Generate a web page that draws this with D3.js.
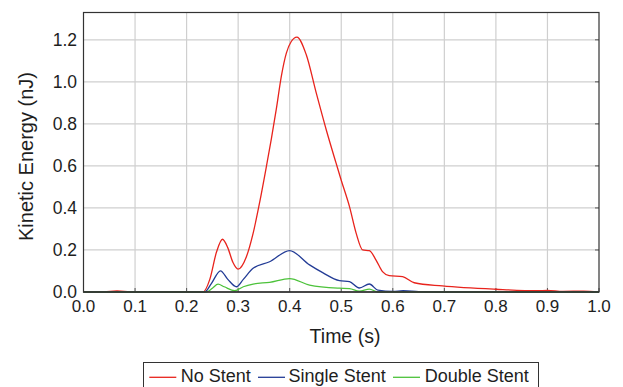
<!DOCTYPE html>
<html>
<head>
<meta charset="utf-8">
<script src="https://cdn.jsdelivr.net/npm/d3@7"></script>
<style>
  body { margin: 0; background: #fff; }
  text { font-family: "Liberation Sans", Arial, sans-serif; fill: #1e1e1e; }
</style>
</head>
<body>
<svg id="chart" width="623" height="387"></svg>
<script>
// values
const noStent = [
  [0.0, 0], [0.04, 0.001], [0.065, 0.005], [0.09, 0.001], [0.12, 0], [0.2, 0.002], [0.232, 0],
  [0.245, 0.06], [0.258, 0.19], [0.2696, 0.251], [0.28, 0.21], [0.29, 0.14], [0.2998, 0.109],
  [0.316, 0.168], [0.329, 0.279], [0.342, 0.43], [0.355, 0.6], [0.3645, 0.73],
  [0.374, 0.87], [0.384, 1.03], [0.3935, 1.137], [0.403, 1.192], [0.414, 1.213],
  [0.432, 1.13], [0.4516, 0.946], [0.471, 0.771], [0.49, 0.613], [0.4998, 0.533],
  [0.516, 0.406], [0.529, 0.279], [0.5416, 0.2], [0.5545, 0.197], [0.5675, 0.152],
  [0.58, 0.097], [0.593, 0.078], [0.619, 0.073], [0.6416, 0.044], [0.696, 0.029], [0.80, 0.013],
  [0.88, 0.006], [0.9, 0.008], [0.93, 0.003], [0.97, 0.004], [1.0, 0]
];
const singleStent = [
  [0.0, 0], [0.235, 0], [0.248, 0.04], [0.2657, 0.101], [0.28, 0.06], [0.2967, 0.025],
  [0.31, 0.06], [0.329, 0.113], [0.361, 0.144], [0.3998, 0.197], [0.4385, 0.129],
  [0.464, 0.092], [0.4965, 0.054], [0.516, 0.049], [0.535, 0.019], [0.5545, 0.038],
  [0.571, 0.009], [0.6, 0.003], [0.62, 0.006], [0.65, 0.002], [0.7, 0], [1.0, 0]
];
const doubleStent = [
  [0.0, 0], [0.238, 0], [0.25, 0.018], [0.261, 0.037], [0.273, 0.025], [0.2934, 0.006],
  [0.31, 0.025], [0.329, 0.038], [0.361, 0.046], [0.3998, 0.064], [0.4385, 0.033],
  [0.4965, 0.018], [0.516, 0.016], [0.535, 0.004], [0.5545, 0.014], [0.571, 0],
  [1.0, 0]
];
const seriesNames = ["No Stent", "Single Stent", "Double Stent"];
const seriesColors = ["#e8231c", "#233c96", "#4cc23a"];
const xTicks = [0, 0.1, 0.2, 0.3, 0.4, 0.5, 0.6, 0.7, 0.8, 0.9, 1.0];
const yTicks = [0, 0.2, 0.4, 0.6, 0.8, 1.0, 1.2];

const svg = d3.select("#chart");
const margin = {left: 83.5, right: 24, top: 12.5, bottom: 95};
const width = 623, height = 387;

const x = d3.scaleLinear().domain([0, 1]).range([margin.left, width - margin.right]);
const y = d3.scaleLinear().domain([0, 1.33]).range([292, margin.top]);

// grid
svg.append("g").selectAll("line").data(xTicks.slice(1, -1)).join("line")
  .attr("x1", d => x(d)).attr("x2", d => x(d))
  .attr("y1", y(1.33)).attr("y2", y(0))
  .attr("stroke", "#cfcfcf").attr("stroke-width", 1.2);
svg.append("g").selectAll("line").data(yTicks.slice(1)).join("line")
  .attr("x1", x(0)).attr("x2", x(1))
  .attr("y1", d => y(d)).attr("y2", d => y(d))
  .attr("stroke", "#cfcfcf").attr("stroke-width", 1.2);

// inner ticks on bottom and right
svg.append("g").selectAll("line").data(xTicks).join("line")
  .attr("x1", d => x(d)).attr("x2", d => x(d))
  .attr("y1", y(0)).attr("y2", y(0) - 4)
  .attr("stroke", "#555").attr("stroke-width", 1);
svg.append("g").selectAll("line").data(yTicks).join("line")
  .attr("x1", x(1)).attr("x2", x(1) - 4)
  .attr("y1", d => y(d)).attr("y2", d => y(d))
  .attr("stroke", "#555").attr("stroke-width", 1);

// lines
const line = d3.line()
  .x(d => x(d[0]))
  .y(d => y(d[1]))
  .curve(d3.curveMonotoneX);

[noStent, singleStent, doubleStent].forEach((s, i) => {
  svg.append("path")
    .attr("d", line(s))
    .attr("fill", "none")
    .attr("stroke", seriesColors[i])
    .attr("stroke-width", 1.3);
});

// frame
svg.append("rect")
  .attr("x", x(0)).attr("y", y(1.33))
  .attr("width", x(1) - x(0)).attr("height", y(0) - y(1.33))
  .attr("fill", "none").attr("stroke", "#333").attr("stroke-width", 1.2);
svg.append("line")
  .attr("x1", x(0)).attr("x2", x(1)).attr("y1", y(0)).attr("y2", y(0))
  .attr("stroke", "#333").attr("stroke-width", 1.6);

// tick labels
svg.append("g").selectAll("text").data(xTicks).join("text")
  .attr("x", d => x(d)).attr("y", 312.3)
  .attr("text-anchor", "middle")
  .style("font-size", "17px")
  .text(d => d3.format(".1f")(d));
svg.append("g").selectAll("text").data(yTicks).join("text")
  .attr("x", 77).attr("y", d => y(d) + 6.3)
  .attr("text-anchor", "end")
  .style("font-size", "17.5px")
  .text(d => d3.format(".1f")(d));

// axis titles
svg.append("text")
  .attr("x", 345).attr("y", 343.3)
  .attr("text-anchor", "middle")
  .style("font-size", "19.5px")
  .text("Time (s)");
svg.append("text")
  .attr("transform", "translate(32.5,156.5) rotate(-90)")
  .attr("text-anchor", "middle")
  .style("font-size", "20px")
  .text("Kinetic Energy (nJ)");

// legend
const legend = svg.append("g");
legend.append("rect")
  .attr("x", 143.5).attr("y", 362.5)
  .attr("width", 395).attr("height", 30)
  .attr("fill", "#fff").attr("stroke", "#333").attr("stroke-width", 1);
const legendPos = [[149.3, 180.7], [258, 288.6], [393, 424.8]];
seriesNames.forEach((n, i) => {
  legend.append("line")
    .attr("x1", legendPos[i][0]).attr("x2", legendPos[i][0] + 27)
    .attr("y1", 377.3).attr("y2", 377.3)
    .attr("stroke", seriesColors[i]).attr("stroke-width", 1.3);
  legend.append("text")
    .attr("x", legendPos[i][1]).attr("y", 382.3)
    .style("font-size", "18px")
    .text(n);
});
</script>
</body>
</html>
